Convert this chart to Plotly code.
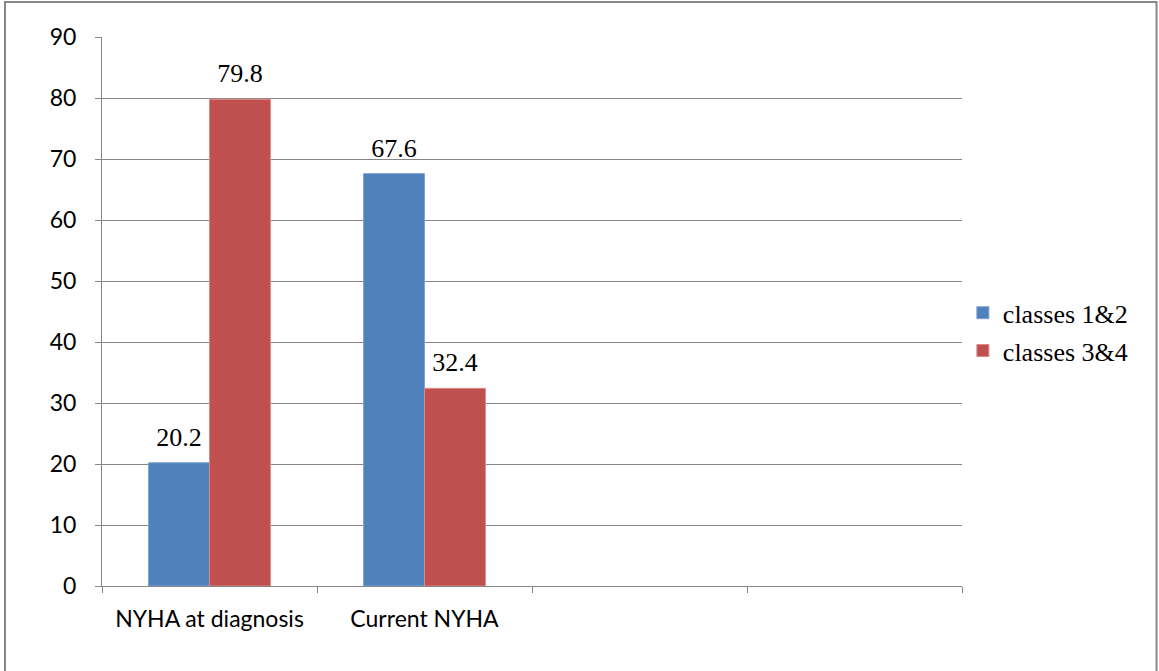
import plotly.graph_objects as go

# Category slots (the last two are blank placeholders on the axis)
categories = ["NYHA at diagnosis", "Current NYHA", " ", "  "]
classes_1_2 = [20.2, 67.6, None, None]
classes_3_4 = [79.8, 32.4, None, None]
y_ticks = [0, 10, 20, 30, 40, 50, 60, 70, 80, 90]

BLUE = "#4F81BD"
RED = "#C0504D"
GRID = "#868686"
SANS = "Lato"
SERIF = "Liberation Serif"
GAP = 0.433

def labels(vals):
    return [("" if v is None else f"{v:.1f}") for v in vals]

fig = go.Figure()
series = [
    ("classes 1&2", classes_1_2, BLUE, "#7EA2D3", "a"),
    ("classes 3&4", classes_3_4, RED, "#D98A88", "b"),
]
for name, vals, fill, edge, grp in series:
    fig.add_trace(go.Bar(
        name=name, x=categories, y=vals,
        marker=dict(color=fill, line=dict(color=edge, width=1)),
        legendgroup=grp, offsetgroup=grp,
    ))
# value labels, placed over each bar with the same grouped offsets
for name, vals, fill, edge, grp in series:
    fig.add_trace(go.Scatter(
        x=categories, y=vals, mode="markers+text",
        text=labels(vals), textposition="top center",
        marker=dict(size=15, opacity=0),
        textfont=dict(family=SERIF, size=26, color="black"),
        offsetgroup=grp, showlegend=False, hoverinfo="skip",
        cliponaxis=False,
    ))

fig.update_layout(
    width=1159, height=671,
    margin=dict(l=102, r=197, t=37, b=85),
    paper_bgcolor="white", plot_bgcolor="white",
    barmode="group", bargap=GAP, bargroupgap=0,
    scattermode="group", scattergap=GAP,
    showlegend=True,
    legend=dict(
        x=1.001, y=0.463, xanchor="left", yanchor="middle",
        font=dict(family=SERIF, size=26, color="black"),
        traceorder="grouped", tracegroupgap=1,
        itemwidth=30, bgcolor="rgba(0,0,0,0)",
    ),
    xaxis=dict(
        type="category", categoryorder="array", categoryarray=categories,
        range=[-0.5, 3.5],
        showline=True, linecolor=GRID, linewidth=1,
        ticks="outside", tickson="boundaries", ticklen=6, tickcolor=GRID,
        showgrid=False,
        tickfont=dict(family=SANS, size=23, color="black"),
        ticklabelstandoff=12,
    ),
    yaxis=dict(
        range=[0, 90], tickvals=y_ticks,
        showline=True, linecolor=GRID, linewidth=1,
        ticks="outside", ticklen=6, tickcolor=GRID,
        showgrid=True, gridcolor=GRID, gridwidth=1,
        zeroline=False,
        tickfont=dict(family=SANS, size=23, color="black"),
        ticklabelstandoff=14,
    ),
    shapes=[dict(
        type="rect", xref="paper", yref="paper",
        x0=-0.1128, x1=1.2262, y0=-0.2, y1=1.0637,
        line=dict(color="#878787", width=2), fillcolor="rgba(0,0,0,0)",
        layer="below",
    )],
)

fig.write_html("out.html")
